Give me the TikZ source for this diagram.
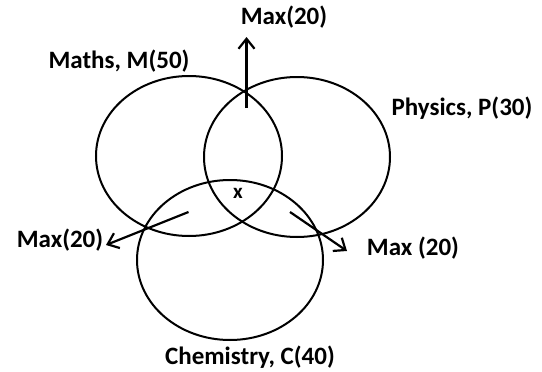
\documentclass[tikz,border=0pt]{standalone}
\usepackage{fontspec}
\setmainfont{Carlito}
\usetikzlibrary{shapes.geometric,arrows.meta}
\begin{document}
\begin{tikzpicture}[x=1pt,y=-1pt,
  setring/.style={draw=black,line width=2pt,ellipse,minimum width=186pt,minimum height=160pt,inner sep=0pt},
  lbl/.style={font=\bfseries\fontsize{25}{27}\selectfont,inner sep=0pt,text=black},
  arr/.style={line width=2.2pt,-{Straight Barb[length=10pt,width=16pt,line width=2.2pt]}}]
\useasboundingbox (0,0) rectangle (542,372);
\node[setring] (M) at (189,156) {};
\node[setring] (P) at (297,157) {};
\node[setring] (C) at (230,260) {};
\node[lbl] (tmax) at (284,17) {Max(20)};
\node[lbl] (mlab) at (119,61) {Maths, M(50)};
\node[lbl] (plab) at (462,108) {Physics, P(30)};
\node[lbl] (lmax) at (60,240) {Max(20)};
\node[lbl] (rmax) at (413,248) {Max (20)};
\node[lbl] (clab) at (250,357) {Chemistry, C(40)};
\node[lbl,font=\bfseries\fontsize{21}{23}\selectfont] (xlab) at (238,193) {x};
\coordinate (us) at (246.5,108);
\coordinate (ue) at (246.5,37);
\coordinate (ls) at (188.5,212);
\coordinate (le) at (106,245);
\coordinate (rs) at (290,212);
\coordinate (re) at (347,251);
\draw[arr] (us) -- (ue);
\draw[arr] (ls) -- (le);
\draw[arr] (rs) -- (re);
\end{tikzpicture}
\end{document}
